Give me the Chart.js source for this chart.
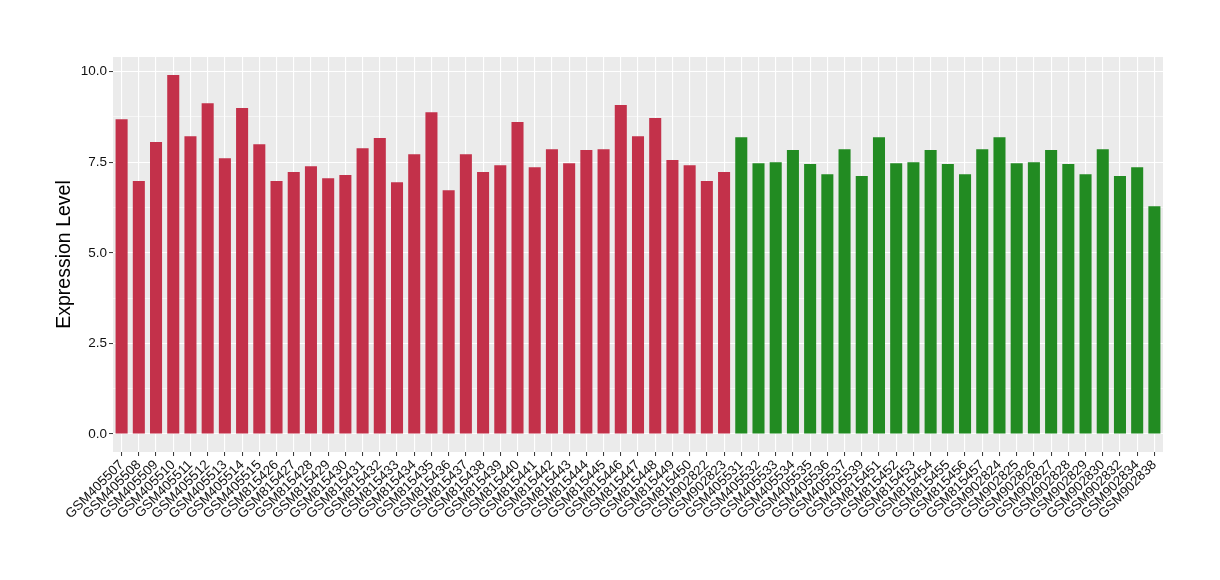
<!DOCTYPE html>
<html>
<head>
<meta charset="utf-8">
<script src="https://cdn.jsdelivr.net/npm/chart.js@4"></script>
<style>
  html, body { margin: 0; padding: 0; background: #fff; }
  #wrap { width: 1220px; height: 580px; }
</style>
</head>
<body>
<div id="wrap"><canvas id="c"></canvas></div>
<script>
// Datos
const samples = [
  "GSM405507","GSM405508","GSM405509","GSM405510","GSM405511","GSM405512","GSM405513","GSM405514","GSM405515",
  "GSM815426","GSM815427","GSM815428","GSM815429","GSM815430","GSM815431","GSM815432","GSM815433","GSM815434",
  "GSM815435","GSM815436","GSM815437","GSM815438","GSM815439","GSM815440","GSM815441","GSM815442","GSM815443",
  "GSM815444","GSM815445","GSM815446","GSM815447","GSM815448","GSM815449","GSM815450","GSM902822","GSM902823",
  "GSM405531","GSM405532","GSM405533","GSM405534","GSM405535","GSM405536","GSM405537","GSM405539",
  "GSM815451","GSM815452","GSM815453","GSM815454","GSM815455","GSM815456","GSM815457",
  "GSM902824","GSM902825","GSM902826","GSM902827","GSM902828","GSM902829","GSM902830","GSM902832","GSM902834","GSM902838"
];

const expression = [
  8.69, 6.98, 8.06, 9.91, 8.22, 9.13, 7.61, 9.00, 8.00,
  6.98, 7.23, 7.39, 7.06, 7.15, 7.89, 8.17, 6.95, 7.72,
  8.88, 6.73, 7.72, 7.23, 7.42, 8.61, 7.36, 7.86, 7.47,
  7.84, 7.86, 9.08, 8.22, 8.72, 7.56, 7.42, 6.98, 7.23,
  8.19, 7.47, 7.50, 7.84, 7.45, 7.17, 7.86, 7.12,
  8.19, 7.47, 7.50, 7.84, 7.45, 7.17, 7.86,
  8.19, 7.47, 7.50, 7.84, 7.45, 7.17, 7.86, 7.12, 7.36, 6.29
];

// grupo de cada muestra (36 rojas, 25 verdes)
const groups = samples.map((s, i) => i < 36 ? "A" : "B");
const groupColors = { A: "#C3314A", B: "#228B22" };

const yTicks = [0, 2.5, 5, 7.5, 10];
const yMinorTicks = [1.25, 3.75, 6.25, 8.75];

// Fondo del panel
const panelBg = {
  id: 'panelBg',
  beforeDraw(chart) {
    const a = chart.chartArea;
    const ctx = chart.ctx;
    ctx.save();
    ctx.fillStyle = '#EBEBEB';
    ctx.fillRect(a.left, a.top, a.right - a.left, a.bottom - a.top);
    ctx.restore();
  }
};

const isMajor = v => yTicks.includes(v);
const span = Math.max(...expression);

new Chart(document.getElementById('c'), {
  type: 'bar',
  data: {
    labels: samples,
    datasets: [{
      data: expression,
      backgroundColor: groups.map(g => groupColors[g]),
      borderWidth: 0,
      barPercentage: 0.7,
      categoryPercentage: 1.0
    }]
  },
  options: {
    responsive: true,
    maintainAspectRatio: false,
    animation: false,
    layout: { padding: { top: 57, right: 57, left: 0, bottom: 0 } },
    plugins: {
      legend: { display: false },
      tooltip: { enabled: false }
    },
    scales: {
      x: {
        offset: true,
        border: { display: false },
        grid: {
          offset: false,
          color: '#FFFFFF',
          lineWidth: 1.1,
          tickColor: '#333333',
          tickLength: 4,
          tickWidth: 1
        },
        ticks: {
          autoSkip: false,
          maxRotation: 45,
          minRotation: 45,
          padding: 1,
          color: '#111',
          font: { family: 'Liberation Sans', size: 13.5 }
        },
        afterFit(scale) { scale.height = 128; }
      },
      y: {
        min: -0.05 * span,
        max: span * 1.05,
        border: { display: false },
        afterBuildTicks(scale) {
          scale.ticks = yTicks.concat(yMinorTicks).sort((a, b) => a - b).map(v => ({ value: v }));
        },
        grid: {
          color: '#FFFFFF',
          lineWidth: ctx => isMajor(ctx.tick.value) ? 1.1 : 0.55,
          tickColor: ctx => isMajor(ctx.tick.value) ? '#333333' : 'rgba(0,0,0,0)',
          tickLength: 4,
          tickWidth: 1
        },
        ticks: {
          padding: 2,
          color: '#111',
          font: { family: 'Liberation Sans', size: 13.5 },
          callback: v => isMajor(v) ? v.toFixed(1) : ''
        },
        title: {
          display: true,
          text: 'Expression Level',
          color: '#000',
          font: { family: 'Liberation Sans', size: 19.5 },
          padding: { top: 53, bottom: 0 }
        },
        afterFit(scale) { scale.width = 113; }
      }
    }
  },
  plugins: [panelBg]
});
</script>
</body>
</html>
